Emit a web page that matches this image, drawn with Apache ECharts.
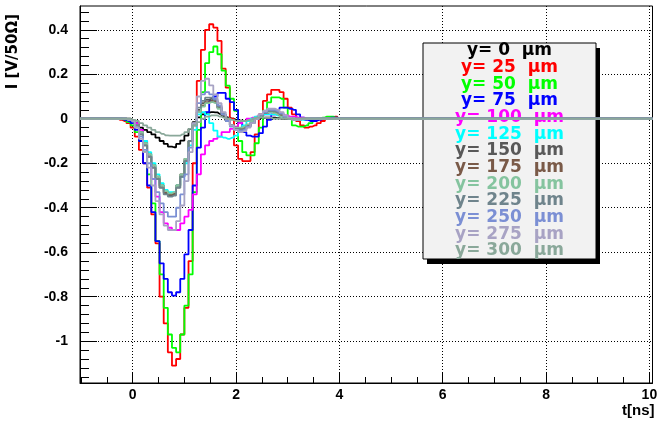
<!DOCTYPE html>
<html>
<head>
<meta charset="utf-8">
<script src="https://cdn.jsdelivr.net/npm/echarts@6/dist/echarts.min.js"></script>
<style>html,body{margin:0;padding:0;background:#fff}#c{width:663px;height:426px}</style>
</head>
<body>
<div id="c"></div>
<script>
// bin centres (ns)
const binCenters = [-0.32,-0.24,-0.16,-0.08,0.00,0.08,0.16,0.24,0.32,0.40,0.48,0.56,0.64,0.72,0.80,0.88,0.96,1.04,1.12,1.20,1.28,1.36,1.44,1.52,1.60,1.68,1.76,1.84,1.92,2.00,2.08,2.16,2.24,2.32,2.40,2.48,2.56,2.64,2.72,2.80,2.88,2.96,3.04,3.12,3.20,3.28,3.36,3.44,3.52,3.60,3.68,3.76,3.84,3.92,4.00];
const tStart = -1.02, tEnd = 10.06;

const labels = ['y= 0  \u00b5m','y= 25  \u00b5m','y= 50  \u00b5m','y= 75  \u00b5m','y= 100  \u00b5m','y= 125  \u00b5m','y= 150  \u00b5m','y= 175  \u00b5m','y= 200  \u00b5m','y= 225  \u00b5m','y= 250  \u00b5m','y= 275  \u00b5m','y= 300  \u00b5m'];
const colors = ['#000000','#ff0000','#00ff00','#0000ff','#ff00ff','#00ffff','#595959','#7a5a48','#85c49f','#6f848c','#7b8fd4','#a8a3c4','#8aa89a'];

const y0 = [0,0,0,0,-0.005,-0.02,-0.04,-0.05,-0.06,-0.07,-0.085,-0.1,-0.113,-0.125,-0.128,-0.113,-0.098,-0.076,-0.046,-0.015,0.006,0.02,0.028,0.03,0.029,0.022,0.012,0.005,0,-0.005,-0.008,-0.01,-0.008,-0.005,0,0.003,0.005,0.005,0.005,0.003,0,0,0,0,0,0,0,0,0,0,0,0,0,0,0];
const y25 = [0,-0.005,-0.01,-0.02,-0.04,-0.08,-0.14,-0.2,-0.31,-0.43,-0.56,-0.8,-0.92,-1.05,-1.11,-1.08,-0.97,-0.85,-0.64,-0.2,0.17,0.31,0.40,0.425,0.41,0.35,0.225,0.14,0.0,-0.12,-0.18,-0.19,-0.19,-0.15,-0.07,0.02,0.08,0.11,0.13,0.13,0.12,0.09,0.05,0.02,-0.01,-0.03,-0.04,-0.035,-0.03,-0.02,-0.01,0,0.005,0.01,0];
const y50 = [0,0,-0.005,-0.015,-0.03,-0.06,-0.1,-0.15,-0.25,-0.38,-0.55,-0.7,-0.85,-0.97,-1.03,-1.05,-0.97,-0.84,-0.7,-0.33,-0.05,0.12,0.25,0.3,0.325,0.29,0.216,0.149,0.09,0.036,-0.1,-0.15,-0.165,-0.165,-0.11,-0.04,0.036,0.074,0.096,0.096,0.09,0.05,0.006,-0.03,-0.035,-0.035,-0.03,-0.02,-0.01,0,0.005,0.01,0.01,0.005,0];
const y75 = [0,0,-0.005,-0.01,-0.02,-0.05,-0.1,-0.2,-0.3,-0.42,-0.55,-0.65,-0.72,-0.78,-0.795,-0.78,-0.72,-0.61,-0.5,-0.3,-0.13,-0.04,0.03,0.08,0.1,0.116,0.116,0.09,0.075,0.04,-0.02,-0.06,-0.076,-0.08,-0.08,-0.065,-0.035,-0.005,0.02,0.04,0.05,0.05,0.045,0.04,0.02,0.005,-0.005,-0.01,-0.01,-0.005,0,0,0.005,0.005,0];
const y100 = [0,0,0,-0.005,-0.01,-0.02,-0.05,-0.1,-0.17,-0.27,-0.35,-0.42,-0.47,-0.49,-0.5,-0.5,-0.47,-0.44,-0.41,-0.34,-0.25,-0.16,-0.12,-0.1,-0.09,-0.08,-0.06,-0.06,-0.045,-0.035,-0.02,-0.01,0,0.005,0.01,0.015,0.02,0.02,0.02,0.02,0.02,0.015,0.01,0.01,0.005,0.005,0,0,0,0,0,0,0,0,0];
const y125 = [0,0,0,-0.005,-0.01,-0.03,-0.06,-0.1,-0.15,-0.2,-0.25,-0.29,-0.32,-0.33,-0.33,-0.3,-0.26,-0.2,-0.12,-0.05,0.02,0.03,0.02,-0.02,-0.053,-0.08,-0.085,-0.09,-0.085,-0.076,-0.05,-0.03,-0.01,0,0.01,0.015,0.02,0.02,0.02,0.015,0.01,0.005,0,0,-0.005,-0.005,0,0,0,0,0,0,0,0,0];
const y150 = [0,0,0,-0.005,-0.01,-0.03,-0.07,-0.12,-0.17,-0.22,-0.27,-0.31,-0.335,-0.345,-0.34,-0.31,-0.26,-0.19,-0.1,-0.02,0.04,0.07,0.085,0.09,0.08,0.05,0.02,-0.01,-0.03,-0.045,-0.05,-0.045,-0.035,-0.02,0,0.015,0.025,0.03,0.03,0.025,0.015,0.005,0,-0.005,-0.005,0,0,0,0,0,0,0,0,0,0];
const y175 = [0,0,0,-0.005,-0.01,-0.03,-0.06,-0.11,-0.16,-0.21,-0.26,-0.3,-0.33,-0.34,-0.335,-0.3,-0.25,-0.18,-0.1,-0.03,0.03,0.06,0.075,0.08,0.075,0.05,0.02,-0.01,-0.03,-0.04,-0.045,-0.04,-0.03,-0.015,0,0.015,0.025,0.03,0.03,0.025,0.015,0.005,0,-0.005,0,0,0,0,0,0,0,0,0,0,0];
const y200 = [0,0,0,-0.005,-0.01,-0.03,-0.06,-0.11,-0.16,-0.21,-0.26,-0.3,-0.325,-0.335,-0.33,-0.3,-0.25,-0.18,-0.1,-0.03,0.03,0.055,0.07,0.075,0.07,0.045,0.02,-0.01,-0.03,-0.04,-0.04,-0.035,-0.025,-0.01,0.005,0.015,0.025,0.03,0.025,0.02,0.01,0.005,0,0,0,0,0,0,0,0,0,0,0,0,0];
const y225 = [0,0,0,-0.005,-0.01,-0.03,-0.07,-0.12,-0.17,-0.22,-0.27,-0.31,-0.34,-0.35,-0.345,-0.31,-0.26,-0.19,-0.1,-0.02,0.05,0.08,0.095,0.095,0.085,0.055,0.02,-0.01,-0.03,-0.045,-0.05,-0.045,-0.035,-0.02,0,0.015,0.025,0.035,0.035,0.03,0.02,0.01,0,-0.005,-0.005,0,0,0,0,0,0,0,0,0,0];
const y250 = [0,0,0,-0.005,-0.01,-0.04,-0.08,-0.14,-0.2,-0.27,-0.33,-0.38,-0.42,-0.44,-0.44,-0.4,-0.34,-0.25,-0.13,-0.03,0.07,0.11,0.12,0.11,0.09,0.06,0.02,-0.01,-0.035,-0.05,-0.055,-0.05,-0.035,-0.02,0,0.02,0.03,0.04,0.04,0.035,0.025,0.01,0,-0.005,-0.005,0,0,0,0,0,0,0,0,0,0];
const y275 = [0,0,0,-0.005,-0.01,-0.04,-0.09,-0.15,-0.22,-0.3,-0.37,-0.43,-0.48,-0.5,-0.5,-0.46,-0.39,-0.28,-0.15,-0.02,0.1,0.17,0.18,0.15,0.11,0.07,0.03,0,-0.03,-0.05,-0.06,-0.055,-0.04,-0.02,0,0.02,0.035,0.045,0.045,0.04,0.03,0.015,0.005,-0.005,-0.005,0,0,0,0,0,0,0,0,0,0];
const y300 = [0,0,0,0,-0.005,-0.01,-0.02,-0.03,-0.04,-0.05,-0.06,-0.068,-0.075,-0.076,-0.076,-0.076,-0.07,-0.06,-0.045,-0.03,-0.015,0,0.01,0.015,0.015,0.01,0.005,0,-0.005,-0.01,-0.01,-0.01,-0.005,0,0.005,0.005,0.005,0.005,0,0,0,0,0,0,0,0,0,0,0,0,0,0,0,0,0];

const seriesValues = [y0,y25,y50,y75,y100,y125,y150,y175,y200,y225,y250,y275,y300];

const xMajor = [0,2,4,6,8,10];
const xMinor = [-1,-0.5,0.5,1,1.5,2.5,3,3.5,4.5,5,5.5,6.5,7,7.5,8.5,9,9.5];
const yMajor = [-1,-0.8,-0.6,-0.4,-0.2,0,0.2,0.4];
const yMinor = [-1.16,-1.12,-1.08,-1.04,-0.96,-0.92,-0.88,-0.84,-0.76,-0.72,-0.68,-0.64,-0.56,-0.52,-0.48,-0.44,-0.36,-0.32,-0.28,-0.24,-0.16,-0.12,-0.08,-0.04,0.04,0.08,0.12,0.16,0.24,0.28,0.32,0.36,0.44,0.48];

const chart = echarts.init(document.getElementById('c'), null, {renderer:'canvas'});

const series = seriesValues.map((vals, i) => {
  const data = [[tStart, 0]];
  binCenters.forEach((t, j) => data.push([t, vals[j]]));
  data.push([tEnd, 0]);
  return {
    name: labels[i], type: 'line', step: 'middle', symbol: 'none',
    data: data, z: 2 + i * 0.01,
    lineStyle: {color: colors[i], width: 1.8},
    itemStyle: {color: colors[i]},
    animation: false, silent: true
  };
});

const legendEls = [
  {type:'rect', shape:{x:427, y:48, width:173, height:216}, style:{fill:'#000'}, z:1},
  {type:'rect', shape:{x:423, y:43, width:173, height:216}, style:{fill:'#f2f2f2', stroke:'#000', lineWidth:1}, z:1}
];
labels.forEach((s, i) => {
  legendEls.push({type:'text', x:509.5, y:51 + i * 16.67, z:1,
    style:{text:s, fill:colors[i], align:'center', verticalAlign:'middle', font:'bold 17px "DejaVu Sans"'}});
});
legendEls.push({type:'text', x:13, y:14, rotation: Math.PI/2, z:1,
  style:{text:'I [V/50\u03a9]', fill:'#000', align:'right', verticalAlign:'middle', font:'bold 15px "DejaVu Sans"'}});

const lbl = {color:'#000', fontWeight:'bold', fontSize:14, fontFamily:'Liberation Sans'};

chart.setOption({
  backgroundColor: '#fff',
  animation: false,
  grid: {left:80, right:10.5, top:6, bottom:43, show:true, borderColor:'#000', borderWidth:1, backgroundColor:'transparent'},
  xAxis: [
    {type:'value', min:tStart, max:tEnd, position:'bottom',
     axisLine:{show:true, onZero:false, lineStyle:{color:'#000', width:1}},
     axisTick:{show:true, inside:true, length:11, customValues:xMajor, lineStyle:{color:'#000', width:1}},
     axisLabel:Object.assign({customValues:xMajor, margin:5}, lbl),
     splitLine:{show:true, lineStyle:{color:'#000', type:[1,2], width:1}},
     name:'t[ns]', nameLocation:'end', nameGap:2,
     nameTextStyle:{color:'#000', fontWeight:'bold', fontSize:15, fontFamily:'Liberation Sans', align:'right', verticalAlign:'top', padding:[20,0,0,0]}},
    {type:'value', min:tStart, max:tEnd, position:'bottom',
     axisLine:{show:false, onZero:false},
     axisTick:{show:true, inside:true, length:6, customValues:xMinor, lineStyle:{color:'#000', width:1}},
     axisLabel:{show:false}, splitLine:{show:false}}
  ],
  yAxis: [
    {type:'value', min:-1.188, max:0.507, position:'left',
     axisLine:{show:true, onZero:false, lineStyle:{color:'#000', width:1}},
     axisTick:{show:true, inside:true, length:17, customValues:yMajor, lineStyle:{color:'#000', width:1}},
     axisLabel:Object.assign({customValues:yMajor, margin:12}, lbl),
     splitLine:{show:true, lineStyle:{color:'#000', type:[1,2], width:1}}},
    {type:'value', min:-1.188, max:0.507, position:'left',
     axisLine:{show:false, onZero:false},
     axisTick:{show:true, inside:true, length:9, customValues:yMinor, lineStyle:{color:'#000', width:1}},
     axisLabel:{show:false}, splitLine:{show:false}}
  ],
  graphic: legendEls,
  series: series
});
</script>
</body>
</html>
